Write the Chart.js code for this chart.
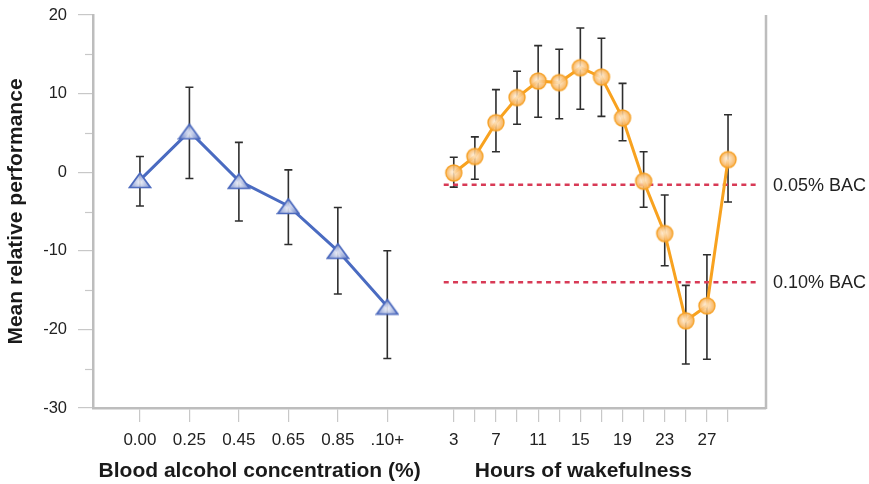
<!DOCTYPE html>
<html>
<head>
<meta charset="utf-8">
<title>Fatigue and alcohol</title>
<script src="https://cdn.jsdelivr.net/npm/chart.js@4.4.1/dist/chart.umd.min.js"></script>
<style>
  html, body { margin: 0; padding: 0; background: #fff; }
  canvas { display: block; }
</style>
</head>
<body>
<canvas id="perfChart" width="869" height="484"></canvas>
<script>
// blood alcohol groups
const bacLabels = ['0.00', '0.25', '0.45', '0.65', '0.85', '.10+'];
const bacMean = [-1.0, 5.2, -1.1, -4.3, -10.0, -17.1];
const bacHigh = [2.0, 10.8, 3.8, 0.3, -4.5, -10.0];
const bacLow = [-4.3, -0.8, -6.2, -9.2, -15.5, -23.7];

// hours awake, every second hour
const hours = [3, 5, 7, 9, 11, 13, 15, 17, 19, 21, 23, 25, 27, 29];
const wakeMean = [-0.1, 2.0, 6.3, 9.5, 11.6, 11.4, 13.3, 12.1, 6.9, -1.15, -7.8, -18.9, -17.0, 1.6];
const wakeHigh = [1.9, 4.5, 10.5, 12.85, 16.1, 15.65, 18.35, 17.05, 11.3, 2.6, -2.9, -14.4, -10.5, 7.3];
const wakeLow = [-1.9, -0.9, 2.6, 6.1, 7.0, 6.8, 8.0, 7.1, 4.0, -4.45, -11.9, -24.4, -23.8, -3.8];
const hourTickLabels = [3, 7, 11, 15, 19, 23, 27];

// equivalent BAC levels
const refLabels = ['0.05% BAC', '0.10% BAC'];
const refValues = [-1.6, -14.0];

const yMin = -30, yMax = 20;

// both panels share one x axis measured in hours; the BAC groups sit to the left
const X_MIN = -31.2, X_MAX = 32.6;
const BAC_X0 = -26.75, BAC_STEP = 4.69;
const REF_FROM = 2.05, REF_TO = 32.0;

const FONT = "'Liberation Sans', Arial, Helvetica, sans-serif";
const AXIS_GREY = '#bdbdbd';

const bacPos = bacLabels.map((_, i) => BAC_X0 + i * BAC_STEP);
const tickPos = bacPos.concat(hours);
const tickText = bacLabels.concat(hours.map(h => hourTickLabels.includes(h) ? String(h) : ''));

function triangleMarker() {
    const c = document.createElement('canvas');
    c.width = 24; c.height = 18;
    const g = c.getContext('2d');
    g.globalAlpha = 0.9;
    g.beginPath();
    g.moveTo(12, 2); g.lineTo(22.5, 16.5); g.lineTo(1.5, 16.5); g.closePath();
    const grad = g.createRadialGradient(12, 11, 1, 12, 11, 11);
    grad.addColorStop(0, '#e8ebf6');
    grad.addColorStop(1, '#7188cb');
    g.fillStyle = grad;
    g.fill();
    g.globalAlpha = 1;
    g.lineWidth = 1.7;
    g.strokeStyle = '#4b69bd';
    g.stroke();
    return c;
}

function circleMarker() {
    const c = document.createElement('canvas');
    c.width = 20; c.height = 20;
    const g = c.getContext('2d');
    g.beginPath();
    g.arc(10, 10, 8, 0, Math.PI * 2);
    const grad = g.createRadialGradient(9, 9, 1, 10, 10, 8.5);
    grad.addColorStop(0, 'rgba(253, 232, 205, 0.85)');
    grad.addColorStop(1, 'rgba(247, 168, 66, 0.92)');
    g.fillStyle = grad;
    g.fill();
    g.lineWidth = 1.4;
    g.strokeStyle = '#f6a229';
    g.stroke();
    return c;
}

function drawErrorBars(ctx, xs, xScale, yScale, highs, lows) {
    ctx.save();
    ctx.strokeStyle = '#2e2e2e';
    ctx.lineWidth = 1.6;
    xs.forEach((v, i) => {
        const x = xScale.getPixelForValue(v);
        const top = yScale.getPixelForValue(highs[i]);
        const bot = yScale.getPixelForValue(lows[i]);
        ctx.beginPath();
        ctx.moveTo(x, top); ctx.lineTo(x, bot);
        ctx.moveTo(x - 4, top); ctx.lineTo(x + 4, top);
        ctx.moveTo(x - 4, bot); ctx.lineTo(x + 4, bot);
        ctx.stroke();
    });
    ctx.restore();
}

const decorations = {
    id: 'decorations',
    beforeDatasetsDraw(chart) {
        const { ctx, scales: { x, y } } = chart;
        drawErrorBars(ctx, bacPos, x, y, bacHigh, bacLow);
        drawErrorBars(ctx, hours, x, y, wakeHigh, wakeLow);
    },
    afterDraw(chart) {
        const { ctx, chartArea: area, scales: { x, y } } = chart;
        ctx.save();

        // right frame line
        ctx.strokeStyle = AXIS_GREY;
        ctx.lineWidth = 2.5;
        ctx.beginPath();
        ctx.moveTo(area.right, area.top);
        ctx.lineTo(area.right, area.bottom + 1);
        ctx.stroke();

        // minor ticks on the y axis
        ctx.strokeStyle = '#c8c8c8';
        ctx.lineWidth = 1.2;
        for (let v = yMin + 5; v < yMax; v += 10) {
            const py = Math.round(y.getPixelForValue(v)) + 0.5;
            ctx.beginPath();
            ctx.moveTo(area.left - 8, py);
            ctx.lineTo(area.left - 1, py);
            ctx.stroke();
        }

        // reference labels
        ctx.fillStyle = '#222';
        ctx.font = '18px ' + FONT;
        ctx.textAlign = 'left';
        ctx.textBaseline = 'middle';
        refValues.forEach((v, i) => {
            ctx.fillText(refLabels[i], area.right + 7, y.getPixelForValue(v) + 1);
        });

        // group titles under the x axis
        ctx.fillStyle = '#1a1a1a';
        ctx.font = 'bold 21px ' + FONT;
        ctx.textAlign = 'center';
        ctx.textBaseline = 'alphabetic';
        const bacMid = (x.getPixelForValue(bacPos[0]) + x.getPixelForValue(bacPos[bacPos.length - 1])) / 2;
        ctx.fillText('Blood alcohol concentration (%)', bacMid - 4, 477);
        ctx.fillText('Hours of wakefulness', x.getPixelForValue(15) + 3, 477);

        ctx.restore();
    }
};

const refDatasets = refValues.map(v => ({
    data: [{ x: REF_FROM, y: v }, { x: REF_TO, y: v }],
    borderColor: '#d83a56',
    borderWidth: 2.5,
    borderDash: [5, 4.3],
    pointRadius: 0,
    order: 3
}));

new Chart(document.getElementById('perfChart'), {
    type: 'line',
    data: {
        datasets: [
            {
                data: bacPos.map((x, i) => ({ x: x, y: bacMean[i] })),
                borderColor: '#4a6bc1',
                borderWidth: 3,
                pointStyle: triangleMarker(),
                pointRadius: 10,
                order: 1
            },
            {
                data: hours.map((h, i) => ({ x: h, y: wakeMean[i] })),
                borderColor: '#f8a21f',
                borderWidth: 3,
                pointStyle: circleMarker(),
                pointRadius: 10,
                order: 1
            },
            ...refDatasets
        ]
    },
    options: {
        responsive: false,
        devicePixelRatio: 1,
        animation: false,
        layout: { padding: { left: 0, right: 103, top: 15, bottom: 0 } },
        plugins: {
            legend: { display: false },
            tooltip: { enabled: false }
        },
        scales: {
            x: {
                type: 'linear',
                min: X_MIN,
                max: X_MAX,
                afterBuildTicks: scale => {
                    scale.ticks = tickPos.map(v => ({ value: v }));
                },
                afterFit: scale => { scale.height = 76; },
                ticks: {
                    autoSkip: false,
                    maxRotation: 0,
                    minRotation: 0,
                    padding: 8,
                    color: '#222',
                    font: { family: FONT, size: 17 },
                    callback: (value, index) => tickText[index]
                },
                grid: { drawOnChartArea: false, tickLength: 14, color: '#c8c8c8', lineWidth: 1.2 },
                border: { color: AXIS_GREY, width: 2.5 }
            },
            y: {
                min: yMin,
                max: yMax,
                afterFit: scale => {
                    scale.width = 93;
                    // let the layout padding alone decide where the plot starts
                    scale.paddingTop = 0;
                    scale.paddingBottom = 0;
                },
                ticks: {
                    stepSize: 10,
                    padding: 11,
                    color: '#222',
                    font: { family: FONT, size: 16.5 }
                },
                grid: { drawOnChartArea: false, tickLength: 15, color: '#c8c8c8', lineWidth: 1.2 },
                border: { color: AXIS_GREY, width: 2.5 },
                title: {
                    display: true,
                    text: 'Mean relative performance',
                    color: '#1a1a1a',
                    font: { family: FONT, size: 21, weight: 'bold' },
                    padding: { top: 4, bottom: 0 }
                }
            }
        }
    },
    plugins: [decorations]
});
</script>
</body>
</html>
